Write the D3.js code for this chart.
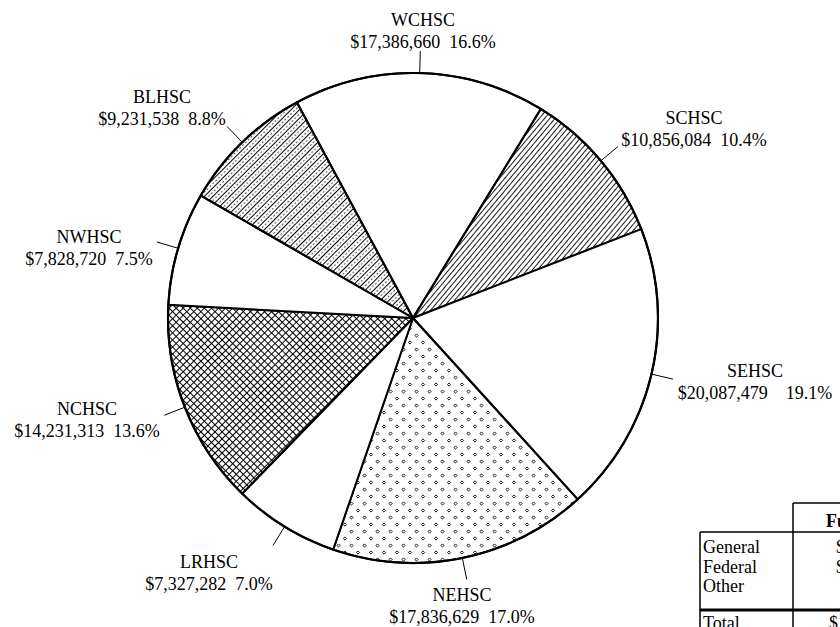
<!DOCTYPE html>
<html><head><meta charset="utf-8">
<script src="https://cdn.jsdelivr.net/npm/d3@7"></script>
<style>
html,body{margin:0;padding:0;background:#fff;}
svg{display:block;}
text{font-family:"Liberation Serif","Times New Roman",serif;fill:#000;}
</style></head>
<body>
<svg id="chart" width="840" height="627"></svg>
<script>
// ---- data ----
const categories = ["WCHSC","SCHSC","SEHSC","NEHSC","LRHSC","NCHSC","NWHSC","BLHSC"];
const amounts = [17386660, 10856084, 20087479, 17836629, 7327282, 14231313, 7828720, 9231538];
const percentLabels = ["16.6%","10.4%","19.1%","17.0%","7.0%","13.6%","7.5%","8.8%"];
const fills = ["none","diag","none","diamond","none","cross","none","diagdot"];
const tableRows = ["General","Federal","Other"];
const tableValues = ["$", "$", ""];
const tableTotalLabel = "Total";
const tableTotalValue = "$104,785,705";
const tableHeader = "Funding";

// ---- layout ----
const W = 840, H = 627;
const cx = 413, cy = 318, R = 245;
const startDeg = -28.3;
// label anchors (center x, first baseline) per category
const labelLayout = {
  WCHSC:[423,26], SCHSC:[694,124], SEHSC:[755,377], NEHSC:[462,601],
  LRHSC:[209,568], NCHSC:[87,415], NWHSC:[89,243], BLHSC:[162,103]
};
const gapText = {SEHSC:"    "};
const FS = 18;

const svg = d3.select("#chart");
const defs = svg.append("defs");

// patterns
const pDiag = defs.append("pattern").attr("id","diag").attr("patternUnits","userSpaceOnUse")
  .attr("width",4).attr("height",4).attr("patternTransform","rotate(40)");
pDiag.append("line").attr("x1",0.5).attr("y1",0).attr("x2",0.5).attr("y2",4).attr("stroke","#000").attr("stroke-width",0.9);

const pDD = defs.append("pattern").attr("id","diagdot").attr("patternUnits","userSpaceOnUse")
  .attr("width",6).attr("height",4).attr("patternTransform","rotate(45)");
pDD.append("line").attr("x1",0.5).attr("y1",0).attr("x2",0.5).attr("y2",4).attr("stroke","#000").attr("stroke-width",1);
pDD.append("circle").attr("cx",3.5).attr("cy",2).attr("r",0.65).attr("fill","#000");

const pX = defs.append("pattern").attr("id","cross").attr("patternUnits","userSpaceOnUse")
  .attr("width",5).attr("height",5).attr("patternTransform","rotate(45)");
pX.append("line").attr("x1",0.5).attr("y1",0).attr("x2",0.5).attr("y2",5).attr("stroke","#000").attr("stroke-width",1);
pX.append("line").attr("x1",0).attr("y1",0.5).attr("x2",5).attr("y2",0.5).attr("stroke","#000").attr("stroke-width",1);

const pDm = defs.append("pattern").attr("id","diamond").attr("patternUnits","userSpaceOnUse")
  .attr("width",13).attr("height",14);
[[3.5,3.5],[10,10.5]].forEach(([x,y])=>{
  pDm.append("path").attr("d",`M${x},${y-1.6}L${x+1.6},${y}L${x},${y+1.6}L${x-1.6},${y}Z`)
    .attr("fill","none").attr("stroke","#000").attr("stroke-width",0.9);
});

const data = categories.map((c,i)=>({name:c, value:amounts[i], pct:percentLabels[i], fill:fills[i]}));
const start = startDeg*Math.PI/180;
const pie = d3.pie().sort(null).value(d=>d.value).startAngle(start).endAngle(start+2*Math.PI);
const arcs = pie(data);
const arc = d3.arc().innerRadius(0).outerRadius(R);

const g = svg.append("g").attr("transform",`translate(${cx},${cy})`);
g.selectAll("path.slice").data(arcs).join("path").attr("class","slice")
  .attr("d",arc)
  .attr("fill",d=>d.data.fill==="none"?"#fff":`url(#${d.data.fill})`)
  .attr("stroke","#000").attr("stroke-width",2).attr("stroke-linejoin","round");
g.append("circle").attr("r",R).attr("fill","none").attr("stroke","#000").attr("stroke-width",2.2);

// leader lines
arcs.forEach(a=>{
  const m = (a.startAngle+a.endAngle)/2;
  const x1 = Math.sin(m)*R, y1 = -Math.cos(m)*R;
  const x2 = Math.sin(m)*(R+22), y2 = -Math.cos(m)*(R+22);
  g.append("line").attr("x1",x1).attr("y1",y1).attr("x2",x2).attr("y2",y2)
    .attr("stroke","#000").attr("stroke-width",1);
});

// labels
const fmt = d3.format("$,");
arcs.forEach(a=>{
  const [lx,ly] = labelLayout[a.data.name];
  const t = svg.append("text").attr("text-anchor","middle").attr("font-size",FS)
    .attr("x",lx).attr("y",ly).style("white-space","pre");
  t.append("tspan").attr("x",lx).attr("y",ly).text(a.data.name);
  t.append("tspan").attr("x",lx).attr("y",ly+22)
    .text(fmt(a.data.value)+(gapText[a.data.name]||"  ")+a.data.pct);
});

// table (clipped at the right edge)
const tb = svg.append("g");
const tx0 = 700, tx1 = 793, ty0 = 503, tyH = 532, tyT = 610;
tb.append("line").attr("x1",tx1).attr("y1",ty0).attr("x2",W+5).attr("y2",ty0).attr("stroke","#000").attr("stroke-width",1.5);
tb.append("line").attr("x1",tx1).attr("y1",ty0).attr("x2",tx1).attr("y2",H).attr("stroke","#000").attr("stroke-width",1.5);
tb.append("line").attr("x1",tx0).attr("y1",tyH).attr("x2",W+5).attr("y2",tyH).attr("stroke","#000").attr("stroke-width",1.5);
tb.append("line").attr("x1",tx0).attr("y1",tyH).attr("x2",tx0).attr("y2",H).attr("stroke","#000").attr("stroke-width",1.5);
tb.append("line").attr("x1",tx0).attr("y1",tyT).attr("x2",W+5).attr("y2",tyT).attr("stroke","#000").attr("stroke-width",3);
tb.append("text").attr("x",826).attr("y",527).attr("font-size",18).attr("font-weight","bold").text(tableHeader);
tableRows.forEach((r,i)=>{
  tb.append("text").attr("x",tx0+3).attr("y",553+i*19.5).attr("font-size",18).text(r);
  tb.append("text").attr("x",836).attr("y",553+i*19.5).attr("font-size",18).text(tableValues[i]);
});
tb.append("text").attr("x",tx0+3).attr("y",629).attr("font-size",18).text(tableTotalLabel);
tb.append("text").attr("x",829).attr("y",629).attr("font-size",18).text(tableTotalValue);
</script>
</body></html>
